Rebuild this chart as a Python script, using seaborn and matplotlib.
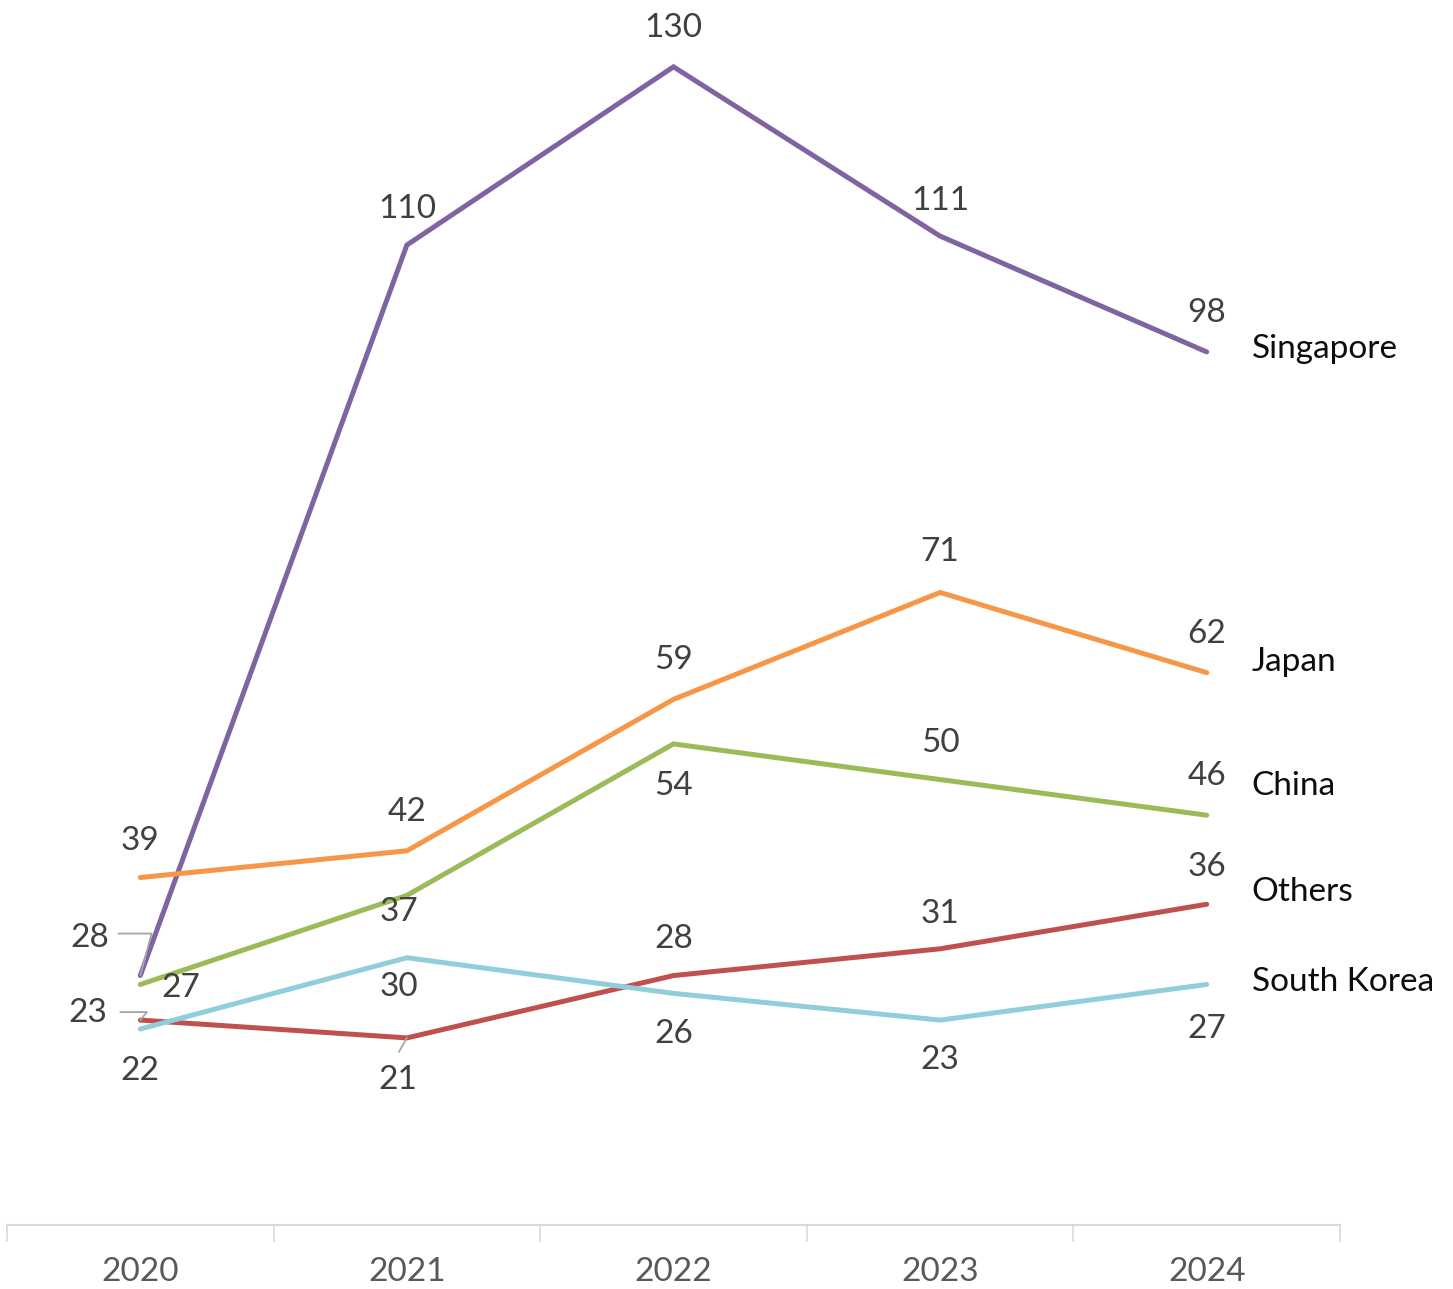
import pandas as pd
import matplotlib.pyplot as plt
import seaborn as sns

years = ["2020", "2021", "2022", "2023", "2024"]
singapore = [28, 110, 130, 111, 98]
japan = [39, 42, 59, 71, 62]
china = [27, 37, 54, 50, 46]
others = [23, 21, 28, 31, 36]
south_korea = [22, 30, 26, 23, 27]

series = {
    "Singapore": singapore,
    "Japan": japan,
    "China": china,
    "Others": others,
    "South Korea": south_korea,
}

rows = []
for name, vals in series.items():
    for i, v in enumerate(vals):
        rows.append({"idx": i, "year": years[i], "value": v, "country": name})
df = pd.DataFrame(rows)

colors = {
    "Singapore": "#8064A2",
    "Japan": "#F79646",
    "China": "#9BBB59",
    "Others": "#C0504D",
    "South Korea": "#92CDDC",
}

# label offsets in pixels (dx, dy) for each point
offsets = {
    "Singapore": [(-50, 38), (0, 36), (0, 39), (0, 35), (0, 39)],
    "Japan": [(0, 37), (0, 39), (0, 39), (0, 40), (0, 39)],
    "China": [(41, -4), (-8, -17), (0, -42), (0, 37), (0, 39)],
    "Others": [(-52, 7), (-9, -42), (0, 37), (0, 35), (0, 37)],
    "South Korea": [(0, -42), (-8, -29), (0, -41), (0, -40), (0, -45)],
}
name_dy = {"Singapore": 3, "Japan": 11, "China": 29, "Others": 12, "South Korea": 2}

sns.set_theme(style="white")
plt.rcParams['font.family'] = ['Lato', 'DejaVu Sans']

fig = plt.figure(figsize=(14.53, 12.89), dpi=100)
ax = fig.add_axes([7 / 1453, 64 / 1289, 1333 / 1453, 1225 / 1289])

sns.lineplot(data=df, x="idx", y="value", hue="country", palette=colors,
             linewidth=3.6, legend=False, ax=ax, solid_capstyle="round",
             solid_joinstyle="miter")

for name, vals in series.items():
    for i, v in enumerate(vals):
        dx, dy = offsets[name][i]
        ax.annotate(str(v), (i, v), xytext=(dx, dy), textcoords="offset pixels",
                    ha="center", va="center", fontsize=24, color="#404040")
    ax.annotate(name, (len(vals) - 1, vals[-1]), xytext=(45, name_dy[name]),
                textcoords="offset pixels", ha="left", va="center",
                fontsize=24, color="#0d0d0d")

# leader lines
lead = dict(color="#a6a6a6", lw=1.3)
ax.annotate("", (0, singapore[0]), xytext=(-22, 42), textcoords="offset pixels",
            arrowprops=dict(arrowstyle="-", shrinkA=0, shrinkB=0,
                            connectionstyle="angle,angleA=0,angleB=75,rad=0", **lead))
ax.annotate("", (0, others[0]), xytext=(-20, 8), textcoords="offset pixels",
            arrowprops=dict(arrowstyle="-", shrinkA=0, shrinkB=0,
                            connectionstyle="angle,angleA=0,angleB=50,rad=0", **lead))
ax.annotate("", (1, others[1]), xytext=(-8, -14), textcoords="offset pixels",
            arrowprops=dict(arrowstyle="-", shrinkA=0, shrinkB=0, **lead))

ax.set_xlim(-0.5, 4.5)
ax.set_ylim(0, 137.5)
ax.set_xticks(range(5))
ax.set_xticklabels(years)
ax.set_xticks([i - 0.5 for i in range(6)], minor=True)
ax.tick_params(axis="x", which="major", length=0, labelsize=24, labelcolor="#595959", pad=34)
ax.tick_params(axis="x", which="minor", length=12, width=1.2, color="#d9d9d9", bottom=True)
for lbl in ax.get_xticklabels():
    lbl.set_verticalalignment("center")
ax.set_yticks([])
ax.set_xlabel("")
ax.set_ylabel("")
for s in ["top", "right", "left"]:
    ax.spines[s].set_visible(False)
ax.spines["bottom"].set_color("#d9d9d9")
ax.spines["bottom"].set_linewidth(1.5)

fig.savefig("out.png", dpi=100)
